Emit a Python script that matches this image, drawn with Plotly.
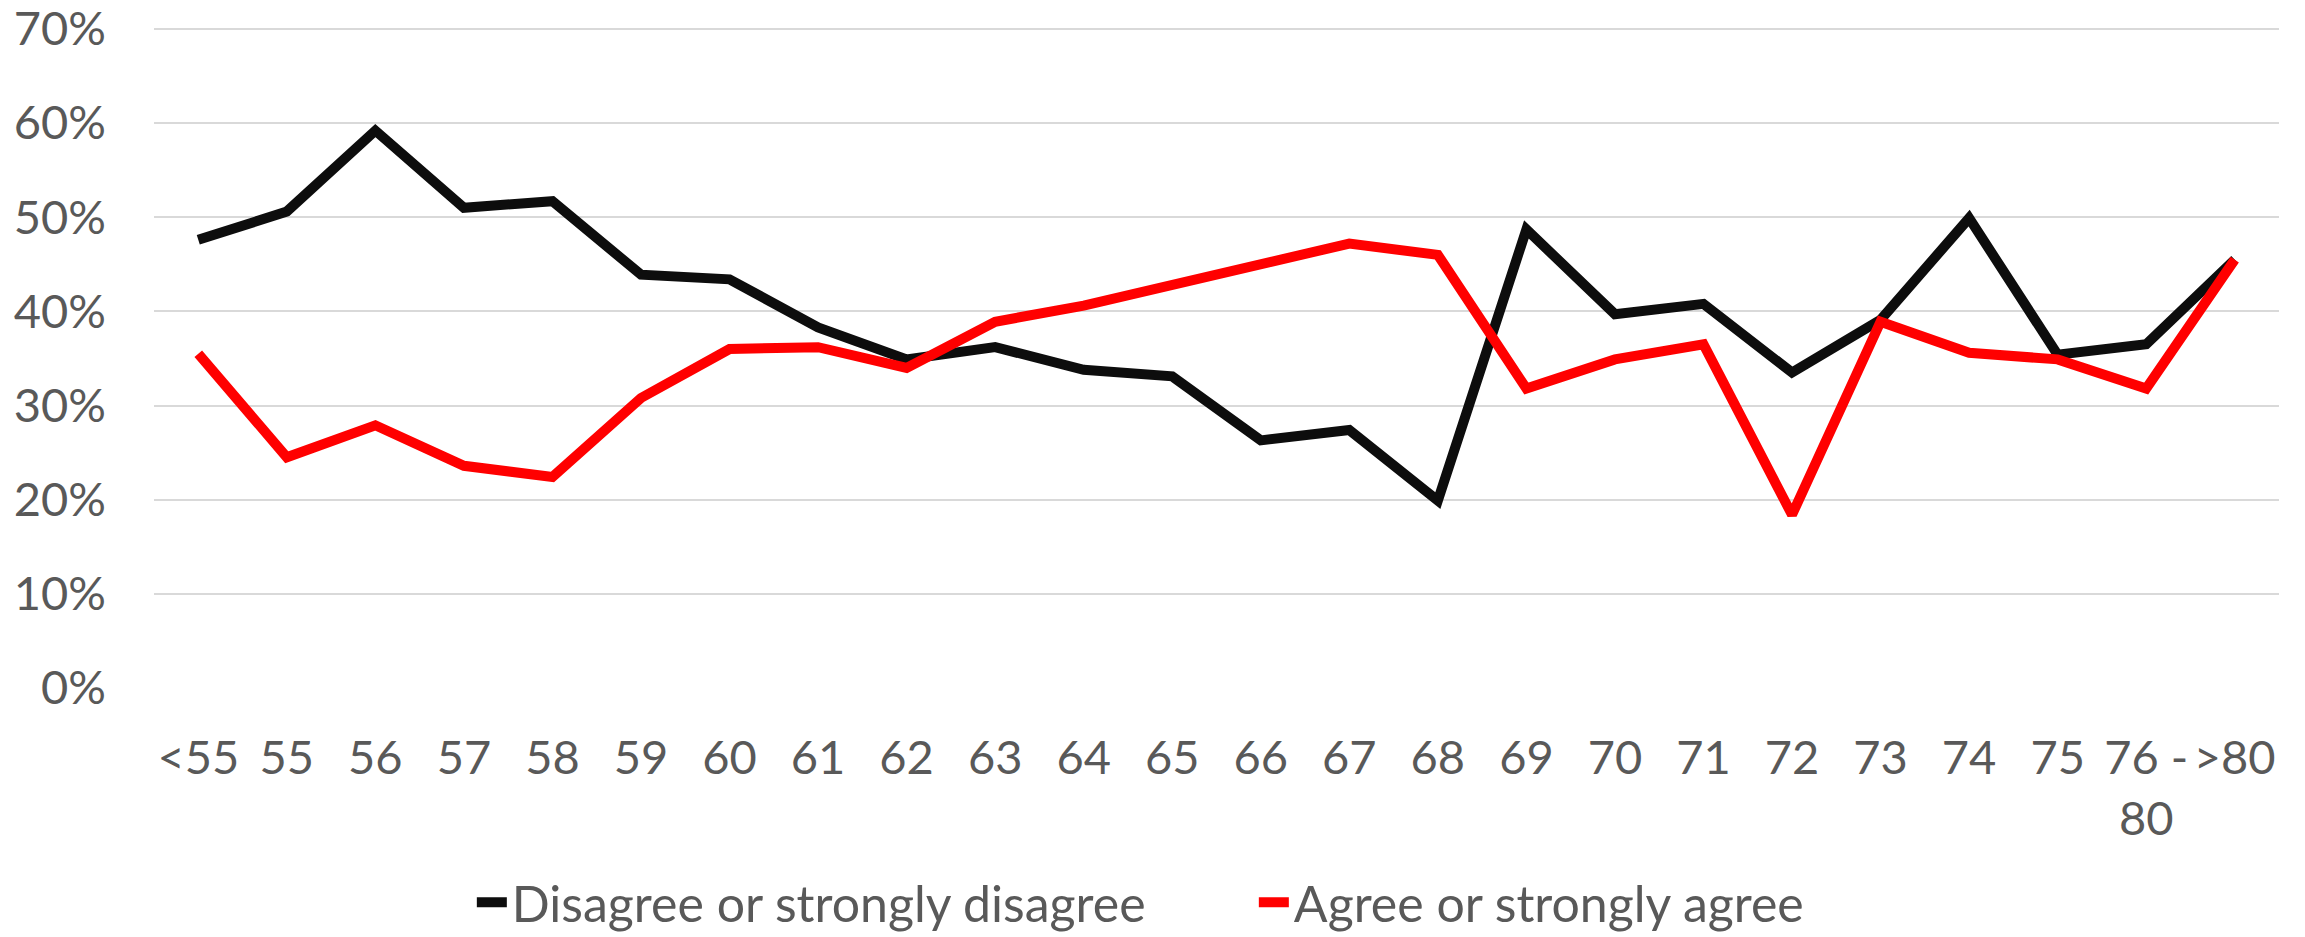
import plotly.graph_objects as go

# Age groups on the x axis
ages = ["<55", "55", "56", "57", "58", "59", "60", "61", "62", "63", "64", "65",
        "66", "67", "68", "69", "70", "71", "72", "73", "74", "75", "76 -<br>80", ">80"]

# Share of respondents (%) per age group
disagree = [47.6, 50.6, 59.2, 51.0, 51.7, 43.9, 43.4, 38.3, 34.9, 36.2, 33.8, 33.1,
            26.3, 27.4, 19.9, 48.7, 39.7, 40.8, 33.5, 39.1, 49.9, 35.4, 36.5, 45.5]
agree = [35.5, 24.5, 27.9, 23.6, 22.4, 30.8, 36.0, 36.2, 34.0, 38.9, 40.6, 42.8,
         44.8, 47.2, 46.0, 31.8, 34.9, 36.5, 18.4, 38.9, 35.6, 34.9, 31.8, 45.5]

y_ticks = [0, 10, 20, 30, 40, 50, 60, 70]
y_labels = [f"{v}%" for v in y_ticks]

FONT = "Lato"
TEXT = "#595959"

fig = go.Figure()
fig.add_trace(go.Scatter(x=ages, y=disagree, mode="lines", name="Disagree or strongly disagree",
                         line=dict(color="#0d0d0d", width=10, shape="linear")))
fig.add_trace(go.Scatter(x=ages, y=agree, mode="lines", name="Agree or strongly agree",
                         line=dict(color="#ff0000", width=10, shape="linear")))

fig.update_layout(
    width=2305, height=937,
    margin=dict(l=154, r=26, t=27, b=249, autoexpand=False),
    paper_bgcolor="white", plot_bgcolor="white",
    font=dict(family=FONT, size=47, color=TEXT),
    showlegend=True,
    legend=dict(orientation="h", xref="container", yref="container",
                x=0.2047, xanchor="left", y=0.037, yanchor="middle",
                font=dict(family=FONT, size=50, color=TEXT),
                entrywidth=737, entrywidthmode="pixels", tracegroupgap=0),
    xaxis=dict(type="category", range=[-0.5, len(ages) - 0.5], automargin=False,
               showgrid=False, zeroline=False, showline=False,
               ticks="", tickfont=dict(family=FONT, size=47, color=TEXT),
               ticklabelstandoff=38, tickangle=0),
    yaxis=dict(range=[0, 70.2], tickvals=y_ticks, ticktext=y_labels, automargin=False,
               showgrid=True, gridcolor="#d9d9d9", gridwidth=2, zeroline=False,
               showline=False, ticks="", tickfont=dict(family=FONT, size=47, color=TEXT),
               ticklabelstandoff=47, ticklabeloverflow="allow"),
)

fig.write_html("out.html")
